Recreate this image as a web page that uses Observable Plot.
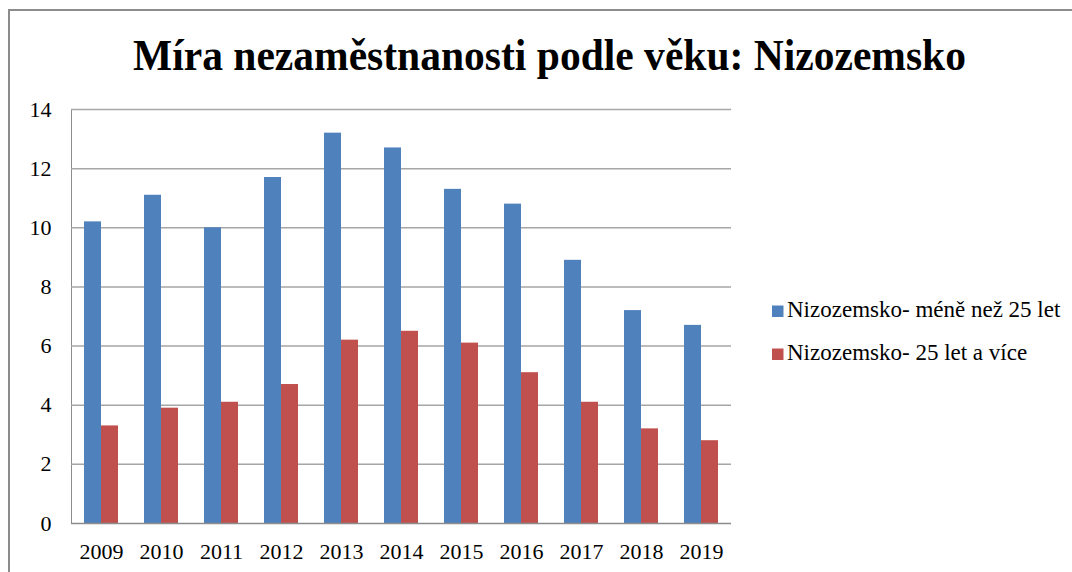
<!DOCTYPE html>
<html>
<head>
<meta charset="utf-8">
<script src="https://cdn.jsdelivr.net/npm/d3@7"></script>
<script src="https://cdn.jsdelivr.net/npm/@observablehq/plot@0.6"></script>
<style>
  html, body { margin: 0; padding: 0; background: #fff; }
  #wrap { position: relative; width: 1072px; height: 572px; overflow: hidden; background: #fff; }
  #frame { position: absolute; left: 8px; top: 9px; right: -10px; bottom: -10px;
           border-top: 2px solid #8c8c8c; border-left: 2px solid #8c8c8c; }
  #chart { position: absolute; left: 0; top: 0; }
  #chart svg text { fill: #000; }
  #overlay { position: absolute; left: 0; top: 0; pointer-events: none; }
  #overlay text { font-family: "Liberation Serif", "Times New Roman", serif; fill: #000; }
</style>
</head>
<body>
<div id="wrap">
  <div id="frame"></div>
  <div id="chart"></div>
  <svg id="overlay" width="1072" height="572"></svg>
</div>
<script>
// ---- data ----
const years = ["2009","2010","2011","2012","2013","2014","2015","2016","2017","2018","2019"];
const under25 = [10.2, 11.1, 10.0, 11.7, 13.2, 12.7, 11.3, 10.8, 8.9, 7.2, 6.7];
const over25  = [3.3, 3.9, 4.1, 4.7, 6.2, 6.5, 6.1, 5.1, 4.1, 3.2, 2.8];
const seriesNames = ["Nizozemsko- méně než 25 let", "Nizozemsko- 25 let a více"];
const seriesColors = ["#4F81BD", "#C0504D"];
const yTicks = [0, 2, 4, 6, 8, 10, 12, 14];
const titleText = "Míra nezaměstnanosti podle věku: Nizozemsko";

const data = years.flatMap((yr, i) => [
  {year: yr, series: seriesNames[0], value: under25[i]},
  {year: yr, series: seriesNames[1], value: over25[i]}
]);

const chart = Plot.plot({
  width: 1072,
  height: 572,
  marginLeft: 68,
  marginRight: 339,
  marginTop: 109,
  marginBottom: 49,
  style: {
    fontFamily: "'Liberation Serif', 'Times New Roman', serif",
    fontSize: "22px",
    color: "#8c8c8c",
    background: "transparent",
    overflow: "visible"
  },
  fx: {domain: years, paddingInner: 0, paddingOuter: 0, label: null, axis: "bottom", tickSize: 0, tickPadding: 20},
  x: {domain: seriesNames, axis: null, paddingInner: 0, paddingOuter: 0.71},
  y: {domain: [0, 14], ticks: yTicks, tickSize: 0, tickPadding: 20, label: null, line: true, tickFormat: d => String(d)},
  color: {domain: seriesNames, range: seriesColors},
  marks: [
    Plot.ruleY(yTicks.filter(d => d > 0), {stroke: "#a6a6a6", strokeWidth: 1.5}),
    Plot.barY(data, {fx: "year", x: "series", y: "value", fill: "series"}),
    Plot.ruleY([0], {stroke: "#8c8c8c", strokeWidth: 1.5})
  ]
});
document.getElementById("chart").appendChild(chart);

// ---- title & legend (overlay) ----
const ov = d3.select("#overlay");
ov.append("text")
  .attr("x", 549.5).attr("y", 70)
  .attr("text-anchor", "middle")
  .attr("font-weight", "bold")
  .attr("font-size", 45)
  .attr("textLength", 833)
  .attr("lengthAdjust", "spacingAndGlyphs")
  .text(titleText);

const lg = ov.append("g").attr("transform", "translate(772,0)");
seriesNames.forEach((name, i) => {
  const yb = 317 + i * 43;
  lg.append("rect").attr("x", 0).attr("y", yb - 11.5).attr("width", 11.5).attr("height", 11.5).attr("fill", seriesColors[i]);
  lg.append("text").attr("x", 15).attr("y", yb).attr("font-size", 23).text(name);
});
</script>
</body>
</html>
